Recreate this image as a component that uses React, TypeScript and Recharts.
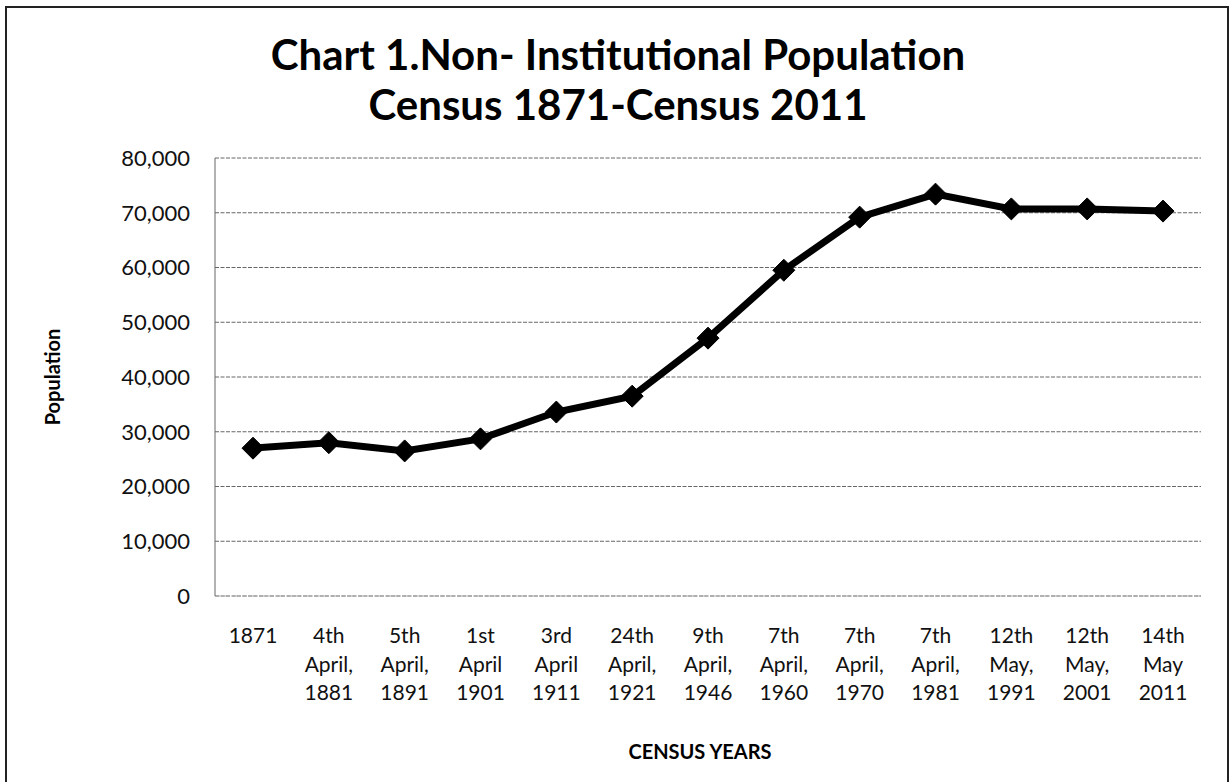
import React from "react";
import { LineChart, Line, XAxis, YAxis, CartesianGrid, Label } from "recharts";

// census dates (multi-line tick labels, split on "|")
const CENSUS_LABELS = [
  "1871",
  "4th|April,|1881",
  "5th|April,|1891",
  "1st|April|1901",
  "3rd|April|1911",
  "24th|April,|1921",
  "9th|April,|1946",
  "7th|April,|1960",
  "7th|April,|1970",
  "7th|April,|1981",
  "12th|May,|1991",
  "12th|May,|2001",
  "14th|May|2011",
];

// non-institutional population
const POPULATION = [
  27000, 28000, 26500, 28700, 33600, 36500, 47100, 59500, 69200, 73400, 70700,
  70700, 70300,
];

const Y_TICKS = [0, 10000, 20000, 30000, 40000, 50000, 60000, 70000, 80000];

const data = CENSUS_LABELS.map((label, i) => ({ label, population: POPULATION[i] }));

const FONT = "Lato, 'Open Sans', sans-serif";

const CensusTick = ({ x, y, payload }: any) => {
  const lines = String(payload.value).split("|");
  return (
    <text x={x} y={y} textAnchor="middle" fontFamily={FONT} fontSize={21} fill="#111">
      {lines.map((ln, i) => (
        <tspan key={i} x={x} dy={i === 0 ? 0 : 28.5}>
          {ln}
        </tspan>
      ))}
    </text>
  );
};

const Diamond = ({ cx, cy, index }: any) => {
  if (cx == null || cy == null) return null;
  const r = 11;
  return (
    <path
      key={`d-${index}`}
      d={`M${cx},${cy - r} L${cx + r},${cy} L${cx},${cy + r} L${cx - r},${cy} Z`}
      fill="#000"
      stroke="#000"
      strokeWidth={1}
    />
  );
};

const App = () => {
  return (
    <div style={{ position: "absolute", left: 0, top: 0, width: 1229, height: 782, overflow: "hidden", background: "#fff" }}>
      <div
        style={{
          position: "absolute",
          left: 5,
          top: 6,
          width: 1220,
          height: 800,
          border: "2px solid #222",
        }}
      />
      <div
        style={{
          position: "absolute",
          left: 0,
          top: 29,
          width: 1236,
          textAlign: "center",
          fontFamily: FONT,
          fontWeight: 700,
          fontSize: 42,
          lineHeight: "50px",
          color: "#000",
        }}
      >
        Chart 1.Non- Institutional Population
        <br />
        Census 1871-Census 2011
      </div>
      <LineChart
        width={1229}
        height={782}
        data={data}
        margin={{ top: 158, right: 28, bottom: 76, left: 0 }}
        style={{ position: "absolute", left: 0, top: 0 }}
      >
        <CartesianGrid vertical={false} stroke="#666" strokeDasharray="4 1.5" strokeWidth={1} />
        <XAxis
          dataKey="label"
          interval={0}
          height={110}
          padding={{ left: 38, right: 38 }}
          tick={<CensusTick />}
          tickLine={false}
          tickSize={0}
          tickMargin={47}
          axisLine={{ stroke: "#aaa", strokeDasharray: "5 4" }}
        >
          <Label
            content={() => (
              <text x={700} y={759} textAnchor="middle" fontFamily={FONT} fontWeight={700} fontSize={20} fill="#000">
                CENSUS YEARS
              </text>
            )}
          />
        </XAxis>
        <YAxis
          width={215}
          domain={[0, 80000]}
          ticks={Y_TICKS}
          interval={0}
          tickLine={false}
          tickSize={0}
          tickMargin={25}
          axisLine={{ stroke: "#666" }}
          tickFormatter={(v: number) => v.toLocaleString("en-US")}
          tick={{ fontFamily: FONT, fontSize: 22, fill: "#111" }}
        >
          <Label
            content={({ viewBox }: any) => {
              const cy = viewBox.y + viewBox.height / 2;
              return (
                <text
                  x={52}
                  y={cy}
                  transform={`rotate(-90 52 ${cy})`}
                  textAnchor="middle"
                  dominantBaseline="central"
                  fontFamily={FONT}
                  fontWeight={700}
                  fontSize={20}
                  fill="#000"
                >
                  Population
                </text>
              );
            }}
          />
        </YAxis>
        <Line
          type="linear"
          dataKey="population"
          stroke="#000"
          strokeWidth={7}
          dot={<Diamond />}
          activeDot={false}
          isAnimationActive={false}
        />
      </LineChart>
    </div>
  );
};

export default App;
